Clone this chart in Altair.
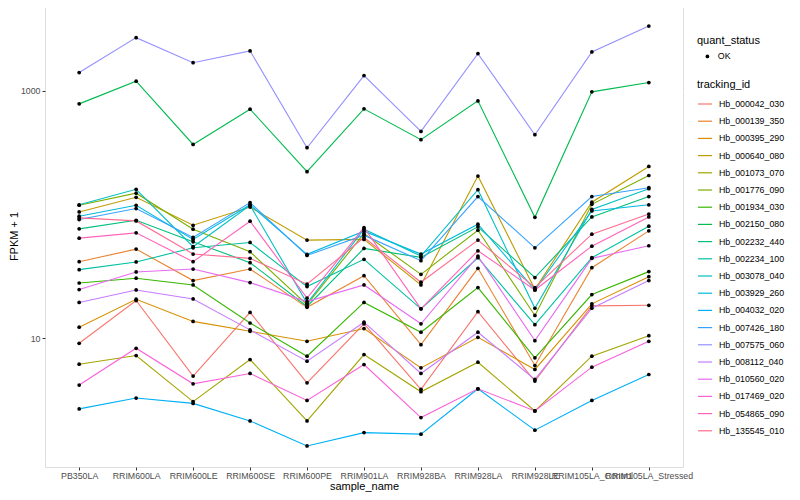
import altair as alt
import pandas as pd

samples = ["PB350LA", "RRIM600LA", "RRIM600LE", "RRIM600SE", "RRIM600PE", "RRIM901LA",
           "RRIM928BA", "RRIM928LA", "RRIM928LE", "RRIM105LA_Control", "RRIM105LA_Stressed"]

tracking_ids = ["Hb_000042_030", "Hb_000139_350", "Hb_000395_290", "Hb_000640_080", "Hb_001073_070",
                "Hb_001776_090", "Hb_001934_030", "Hb_002150_080", "Hb_002232_440", "Hb_002234_100",
                "Hb_003078_040", "Hb_003929_260", "Hb_004032_020", "Hb_007426_180", "Hb_007575_060",
                "Hb_008112_040", "Hb_010560_020", "Hb_017469_020", "Hb_054865_090", "Hb_135545_010"]

hue_colors = ["#F8766D", "#EA8331", "#D89000", "#C09B00", "#A3A500", "#7CAE00", "#39B600", "#00BB4E",
              "#00BF7D", "#00C1A3", "#00BFC4", "#00BAE0", "#00B0F6", "#35A2FF", "#9590FF", "#C77CFF",
              "#E76BF3", "#FA62DB", "#FF62BC", "#FF6C91"]

# FPKM + 1 per sample (same order as samples)
Hb_000042_030 = [9.12, 20.2, 4.95, 16.2, 4.37, 13.1, 3.87, 16.4, 4.51, 18.3, 18.5]
Hb_000139_350 = [41.6, 52.6, 29.3, 36.3, 17.8, 32.1, 8.89, 36.8, 6.03, 37.2, 73.9]
Hb_000395_290 = [12.3, 20.7, 13.7, 11.4, 9.46, 12.0, 5.77, 10.2, 5.60, 19.0, 31.5]
Hb_000640_080 = [105, 138, 82, 115, 62.2, 63, 27.0, 205, 24.9, 126, 245]
Hb_001073_070 = [6.18, 7.26, 3.08, 6.74, 2.15, 7.39, 3.70, 6.41, 2.59, 7.17, 10.5]
Hb_001776_090 = [119, 149, 76.2, 50.1, 18.7, 70.3, 32.9, 74.8, 15.3, 121, 207]
Hb_001934_030 = [28.0, 30.6, 27.0, 13.3, 7.17, 19.5, 11.2, 25.7, 6.95, 22.6, 34.6]
Hb_002150_080 = [785, 1197, 369, 711, 222, 716, 403, 830, 95, 982, 1167]
Hb_002232_440 = [76.7, 90, 60.3, 40.9, 18.1, 53.3, 45.1, 79.6, 31.0, 95.8, 140]
Hb_002234_100 = [35.9, 41.4, 53.9, 59.5, 26.2, 43.5, 17.3, 44.8, 12.9, 44.8, 80.6]
Hb_003078_040 = [120, 160, 55.0, 119, 19.2, 76.2, 46.2, 159, 17.5, 110, 162]
Hb_003929_260 = [97, 119, 63, 120, 47.7, 73.4, 48.0, 83.6, 24.6, 107, 120]
Hb_004032_020 = [2.69, 3.29, 2.98, 2.15, 1.35, 1.73, 1.68, 3.91, 1.81, 3.15, 5.10]
Hb_007426_180 = [91.2, 112, 65.3, 125, 46.8, 68.2, 42.4, 140, 53.9, 140, 165]
Hb_007575_060 = [1406, 2692, 1690, 2103, 347, 1328, 470, 2000, 442, 2065, 3342]
Hb_008112_040 = [19.5, 24.6, 20.8, 11.7, 6.53, 13.5, 5.20, 11.2, 4.65, 17.5, 29.3]
Hb_010560_020 = [24.8, 34.4, 36.3, 28.2, 19.8, 27.0, 13.1, 46.2, 9.58, 44.3, 56.0]
Hb_017469_020 = [4.19, 8.31, 4.29, 5.20, 3.15, 6.14, 2.29, 3.91, 2.59, 5.85, 9.46]
Hb_054865_090 = [64.5, 71.2, 41.6, 88.4, 21.1, 78.6, 17.3, 51.0, 24.6, 55.6, 95.8]
Hb_135545_010 = [94, 88.9, 48.0, 44.3, 27.4, 65.3, 28.4, 62.2, 25.7, 69.5, 101]

series = [Hb_000042_030, Hb_000139_350, Hb_000395_290, Hb_000640_080, Hb_001073_070,
          Hb_001776_090, Hb_001934_030, Hb_002150_080, Hb_002232_440, Hb_002234_100,
          Hb_003078_040, Hb_003929_260, Hb_004032_020, Hb_007426_180, Hb_007575_060,
          Hb_008112_040, Hb_010560_020, Hb_017469_020, Hb_054865_090, Hb_135545_010]

rows = []
for tid, vals in zip(tracking_ids, series):
    for s, v in zip(samples, vals):
        rows.append({"tracking_id": tid, "sample_name": s, "fpkm1": v, "quant_status": "OK"})
df = pd.DataFrame(rows)

major = "datum.value == 10 || datum.value == 1000"
FONT = "Liberation Sans"

x_enc = alt.X("sample_name:N", sort=samples,
              scale=alt.Scale(type="point", padding=0.6),
              axis=alt.Axis(title="sample_name", labelAngle=0, labelFontSize=8.8,
                            labelColor="#4D4D4D", tickColor="#333333", tickSize=3,
                            domain=False, grid=True, gridColor="white", gridWidth=1.1,
                            titleFontSize=11, titleFontWeight="normal", titleColor="black",
                            labelPadding=1, titlePadding=1, labelFont=FONT, titleFont=FONT))
y_enc = alt.Y("fpkm1:Q",
              scale=alt.Scale(type="log", domain=[0.912, 4943], nice=False, zero=False),
              axis=alt.Axis(title="FPKM + 1", values=[1, 10, 100, 1000],
                            labelExpr=f"{major} ? format(datum.value, 'd') : ''",
                            labelFontSize=8.8, labelColor="#4D4D4D",
                            tickColor={"condition": {"test": major, "value": "#333333"}, "value": "transparent"},
                            tickSize=3, domain=False, grid=True, gridColor="white",
                            gridWidth={"condition": {"test": major, "value": 1.1}, "value": 0.55},
                            titleFontSize=11, titleFontWeight="normal", titleColor="black",
                            labelPadding=2, titlePadding=1, labelFont=FONT, titleFont=FONT))

base = alt.Chart(df)

lines = base.mark_line(strokeWidth=1.1).encode(
    x=x_enc, y=y_enc,
    color=alt.Color("tracking_id:N", scale=alt.Scale(domain=tracking_ids, range=hue_colors),
                    legend=alt.Legend(title="tracking_id", orient="none", legendX=652, legendY=74,
                                      symbolType="stroke", symbolSize=200, symbolStrokeWidth=1.2,
                                      rowPadding=4.2, labelFontSize=8.8, labelColor="black",
                                      titleFontSize=11, titleFontWeight="normal", titleColor="black",
                                      titlePadding=6, labelOffset=6, padding=0,
                                      labelFont=FONT, titleFont=FONT)),
    detail="tracking_id:N",
)

points = base.mark_point(filled=True, size=14, color="black", opacity=1).encode(
    x=x_enc, y=y_enc,
    shape=alt.Shape("quant_status:N", scale=alt.Scale(range=["circle"]),
                    legend=alt.Legend(title="quant_status", orient="none", legendX=652, legendY=30,
                                      symbolSize=14, symbolFillColor="black", symbolStrokeColor="black",
                                      symbolOffset=6, labelOffset=6, labelFontSize=8.8,
                                      labelColor="black", titleFontSize=11, titleFontWeight="normal",
                                      titleColor="black", titlePadding=6, padding=0,
                                      labelFont=FONT, titleFont=FONT)),
)

chart = alt.layer(lines, points).properties(
    width=638, height=462,
    autosize=alt.AutoSizeParams(type="none"),
    padding={"left": 37, "top": -3, "right": 103, "bottom": 25},
).configure_view(fill="#EBEBEB", stroke=None).configure(background="white")

chart.save("out.html", embed_options={"renderer": "svg", "actions": False})
